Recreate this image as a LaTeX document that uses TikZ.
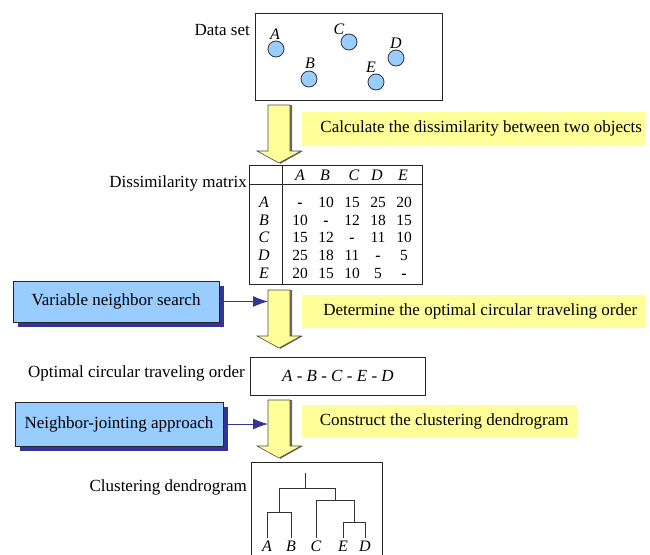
\documentclass[tikz,border=0pt]{standalone}
\usepackage{fontspec}
\setmainfont{Liberation Serif}
\usetikzlibrary{arrows.meta, shadows}

\definecolor{noteyellow}{HTML}{FFFF99}
\definecolor{boxblue}{HTML}{99CCFF}
\definecolor{darkblue}{HTML}{333399}

% big down arrow: name, top, tip
\newcommand{\flowarrow}[3]{%
  \fill[black!60] (270,#2) -- (292,#2) -- (292,#3-12) -- (303,#3-12) -- (280,#3+1) -- cycle;
  \draw[bigarrow] (268,#2) -- (290,#2) -- (290,#3-12) -- (301,#3-12) -- (279,#3)
        -- (257,#3-12) -- (268,#3-12) -- cycle;
  \coordinate (#1) at (268,{(#2+#3)/2});
}
\newcommand{\nd}{\textbf{-}}

\begin{document}
\begin{tikzpicture}[x=1pt, y=-1pt,
  every node/.style={font=\fontsize{17}{20}\selectfont, inner sep=2pt},
  frame/.style={draw=black!85, line width=0.8pt},
  obj/.style={circle, draw=black!80, line width=0.8pt, fill=boxblue, minimum size=16pt, inner sep=0pt},
  letter/.style={font=\fontsize{16}{18}\selectfont\itshape},
  cell/.style={font=\fontsize{15.5}{17}\selectfont, text height=11pt, text depth=0pt},
  note/.style={fill=noteyellow, minimum height=33pt, anchor=west, inner sep=0pt},
  method/.style={draw=black!85, line width=0.8pt, fill=boxblue, minimum height=41pt,
    drop shadow={shadow xshift=5pt, shadow yshift=-5pt, fill=darkblue, opacity=1}},
  bigarrow/.style={draw=black!70, line width=0.6pt, fill=noteyellow},
  link/.style={darkblue, line width=0.9pt, -{Latex[length=15pt, width=11pt]}},
  tree/.style={black!80, line width=0.8pt}]

\useasboundingbox (0,0) rectangle (650,554);

% data set
  \node[frame, minimum width=187pt, minimum height=87pt, anchor=north west] (databox) at (255,13) {};
  \node[anchor=east] (datalbl) at (252,30) {Data set};
  \foreach \n/\x/\y/\lx/\ly in {A/276/49/275/34, B/309/79/310/63, C/349/42/339/29,
                                D/396/58/396/43, E/376/82/371/67} {
    \node[obj] (\n) at (\x,\y) {};
    \node[letter] (l\n) at (\lx,\ly) {\n};
  }

% step 1
  \flowarrow{a1}{105}{163}
  \node[note, minimum width=343pt] (calc) at (302,128.5) {\hspace{15pt}Calculate the dissimilarity between two objects};

% dissimilarity matrix
  \node[frame, minimum width=173pt, minimum height=119pt, anchor=north west] (matbox) at (249,165) {};
  \draw[frame] (249,184) -- (422,184);
  \draw[frame] (282,165) -- (282,284);
  \node[anchor=east] (matlbl) at (249,183) {Dissimilarity matrix};
  \foreach \c/\x in {A/300, B/325, C/354, D/377, E/403}
    \node[letter, text height=11pt, text depth=0pt] (h\c) at (\x,175) {\c};
  \foreach \r/\vals [count=\i] in {A/{\nd,10,15,25,20}, B/{10,\nd,12,18,15}, C/{15,12,\nd,11,10},
                                   D/{25,18,11,\nd,5}, E/{20,15,10,5,\nd}} {
    \node[letter, text height=11pt, text depth=0pt] (r\r) at (264,184+\i*17.8) {\r};
    \foreach \v/\x [count=\j] in \vals
      \node[cell] (m\r\j) at ({300+(\j-1)*26}, 184+\i*17.8) {\v};
  }

% step 2
  \flowarrow{a2}{290}{348}
  \node[note, minimum width=343pt] (order) at (302,311.5) {\hspace{13pt}Determine the optimal circular traveling order};
  \node[method, minimum width=206pt] (vns) at (116,301.5) {Variable neighbor search};
  \draw[link] (vns.east) -- (vns.east -| a2);

% optimal order
  \node[frame, minimum width=175pt, minimum height=38pt, anchor=north west] (orderbox) at (250,357) {};
  \node (orderseq) at (orderbox) {\fontsize{17}{19}\selectfont\textit{A} - \textit{B} - \textit{C} - \textit{E} - \textit{D}};
  \node[anchor=east] (orderlbl) at (247,373) {Optimal circular traveling order};

% step 3
  \flowarrow{a3}{400}{458}
  \node[note, minimum width=275pt] (construct) at (302,421) {\hspace{9pt}Construct the clustering dendrogram};
  \node[method, minimum width=208pt, minimum height=44pt] (nja) at (119,424) {Neighbor-jointing approach};
  \draw[link] (nja.east) -- (nja.east -| a3);

% dendrogram
  \node[frame, minimum width=131pt, minimum height=110pt, anchor=north west] (treebox) at (251,462) {};
  \node[anchor=east] (treelbl) at (249,487) {Clustering dendrogram};
  \foreach \n/\x in {A/267, B/291, C/316, E/343, D/365}
    \node[letter, anchor=north, inner sep=0pt] (leaf\n) at (\x,541) {\n};
  \draw[tree] (leafA.north) ++(0,-3) |- (291,512) -- ([yshift=3pt]leafB.north);
  \draw[tree] (leafE.north) ++(0,-3) |- (365,522) -- ([yshift=3pt]leafD.north);
  \draw[tree] (leafC.north) ++(0,-3) |- (354,500) -- (354,522);
  \draw[tree] (279,512) |- (335,488) -- (335,500);
  \draw[tree] (305,488) -- (305,473);

\end{tikzpicture}
\end{document}
